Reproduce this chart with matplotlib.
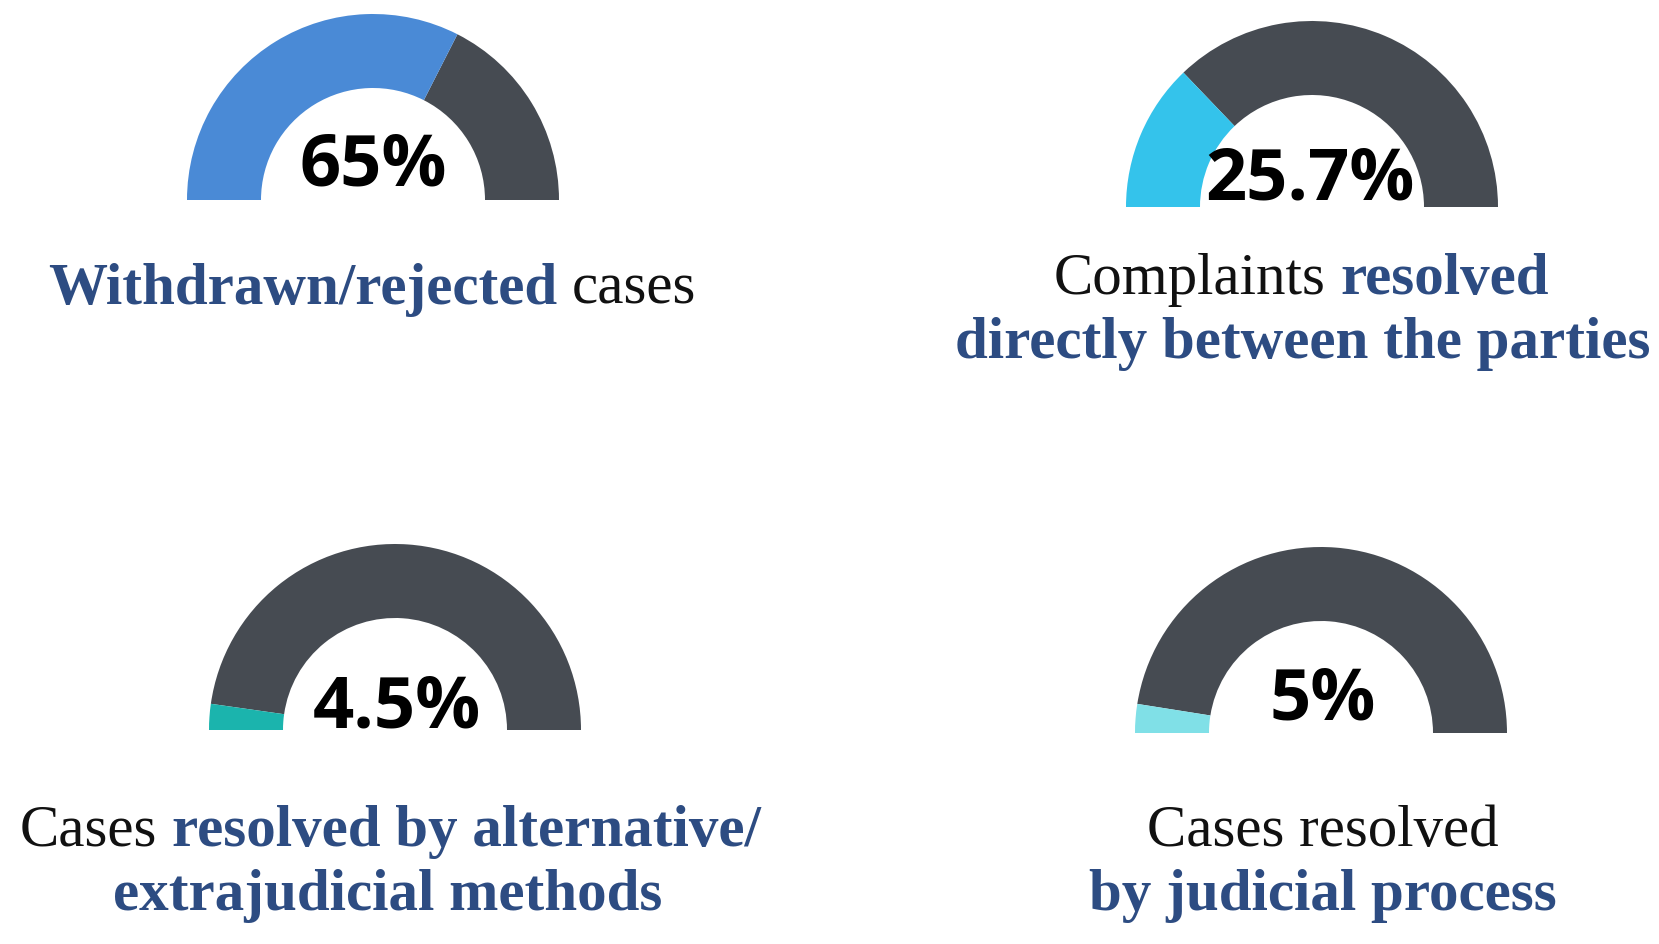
import matplotlib
matplotlib.use("Agg")
import matplotlib.pyplot as plt
from matplotlib.patches import Wedge

W, H = 1659, 944

# data
values = [65, 25.7, 4.5, 5]
value_labels = ["65%", "25.7%", "4.5%", "5%"]
fill_colors = ["#4a8ad6", "#34c3eb", "#1bb4ad", "#80e0e7"]
rest_color = "#464b52"

# caption lines: (text, highlighted)
captions = [
    [[("Withdrawn/rejected", True), ("cases", False)]],
    [[("Complaints", False), ("resolved", True)],
     [("directly between the parties", True)]],
    [[("Cases", False), ("resolved by alternative/", True)],
     [("extrajudicial methods", True)]],
    [[("Cases resolved", False)],
     [("by judicial process", True)]],
]

# layout in pixels (y measured from the top)
gauge_centers = [(373, 200), (1312, 207), (395, 730), (1321, 733)]
outer_r, inner_r = 186, 112
pct_pos = [(373, 185), (1310, 200), (397, 727), (1323, 720)]
caption_pos = [
    [(372, 304)],
    [(1301, 294), (1303, 358)],
    [(390, 846), (388, 910)],
    [(1323, 846), (1323, 910)],
]

BLUE_TXT = "#2d4c82"
SERIF = "Liberation Serif"
CAP_SIZE = 42.5

fig = plt.figure(figsize=(W / 100, H / 100), dpi=100)
ax = fig.add_axes([0, 0, 1, 1])
ax.set_xlim(0, W)
ax.set_ylim(0, H)
ax.axis("off")


def fy(y):
    return H - y


for i, v in enumerate(values):
    cx, cy = gauge_centers[i]
    split = 180 - 180 * v / 100
    ax.add_patch(Wedge((cx, fy(cy)), outer_r, 0, split, width=outer_r - inner_r,
                       facecolor=rest_color, edgecolor="none"))
    ax.add_patch(Wedge((cx, fy(cy)), outer_r, split, 180, width=outer_r - inner_r,
                       facecolor=fill_colors[i], edgecolor="none"))
    px, py = pct_pos[i]
    ax.text(px, fy(py), value_labels[i], ha="center", va="baseline",
            fontsize=52, fontweight="bold", family="Open Sans", color="black")

renderer = fig.canvas.get_renderer()


def text_width(s, bold):
    t = ax.text(0, 0, s, fontsize=CAP_SIZE, family=SERIF,
                fontweight="bold" if bold else "normal")
    w = t.get_window_extent(renderer).width
    t.remove()
    return w


space_w = text_width("a a", False) - text_width("aa", False)

for lines, positions in zip(captions, caption_pos):
    for pieces, (cx, by) in zip(lines, positions):
        texts, widths = [], []
        for s, hl in pieces:
            t = ax.text(0, fy(by), s, fontsize=CAP_SIZE, family=SERIF,
                        fontweight="bold" if hl else "normal",
                        color=BLUE_TXT if hl else "#111111",
                        ha="left", va="baseline")
            texts.append(t)
            widths.append(t.get_window_extent(renderer).width)
        total = sum(widths) + space_w * (len(pieces) - 1)
        x = cx - total / 2
        for t, w in zip(texts, widths):
            t.set_x(x)
            x += w + space_w

fig.savefig("out.png", dpi=100)
